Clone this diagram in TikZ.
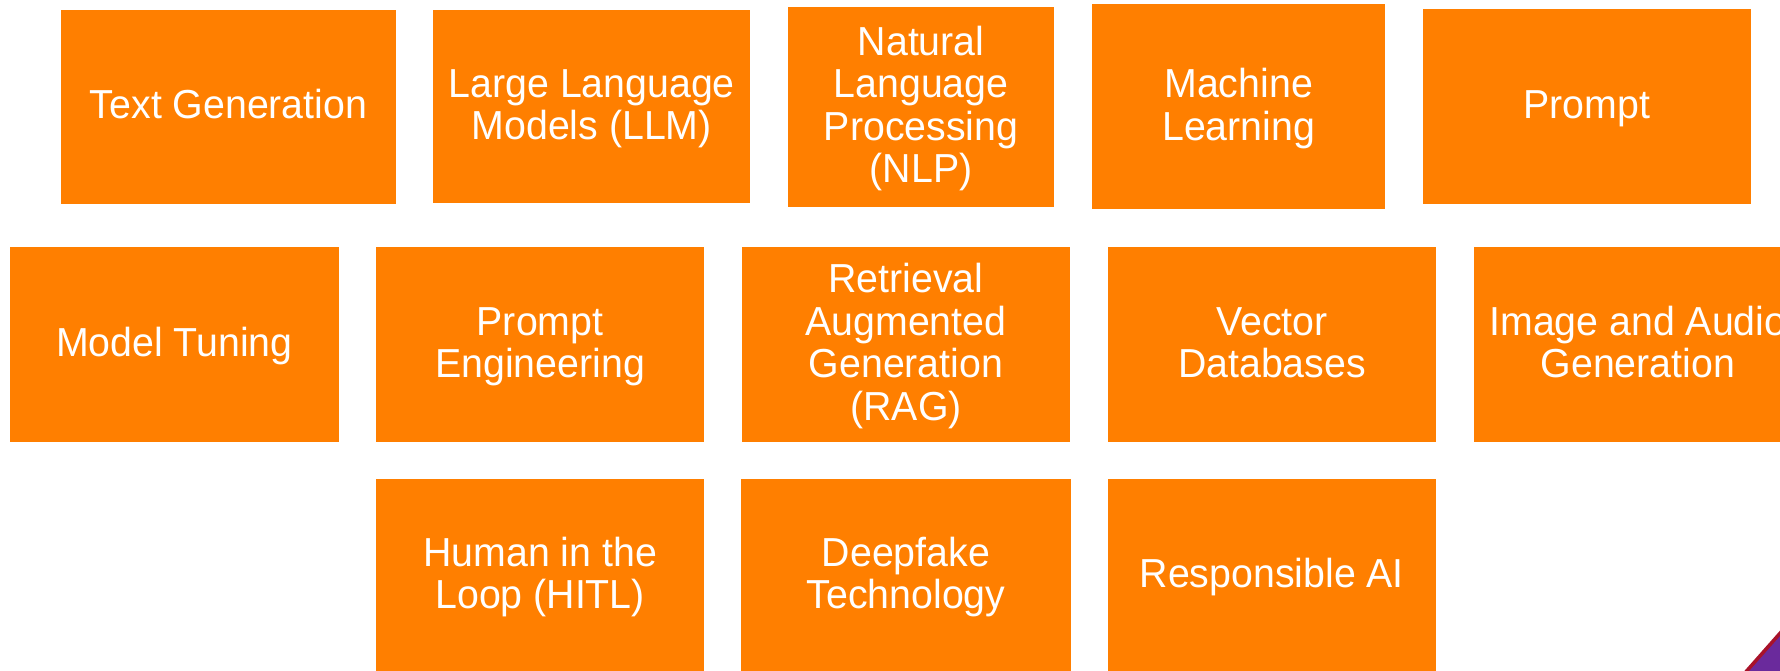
\documentclass[tikz,border=0pt]{standalone}
\usepackage{fontspec}
\setmainfont{Liberation Sans}[FakeStretch=0.97]
\definecolor{boxorange}{HTML}{FF7F00}
\definecolor{cornerred}{HTML}{A8122A}
\definecolor{cornerpurple}{HTML}{6A2A9C}
\newcommand\Tst{\rule{0pt}{36pt}}
\newcommand\Bst{\rule[-12pt]{0pt}{12pt}}
\tikzset{
  tile/.style={fill=boxorange, draw=none, inner sep=0pt, outer sep=0pt,
    text=white, align=center, font=\fontsize{40.5}{42.5}\selectfont,
    anchor=center},
}
\begin{document}
\begin{tikzpicture}[x=1pt, y={(0pt,-1pt)}]
\useasboundingbox (0,0) rectangle (1780,671);
\fill[white] (0,0) rectangle (1780,671);
% Row 1
\node[tile, minimum width=335pt, minimum height=194.3pt] (tg) at (228.5,106.85) {\Tst Text Generation\Bst};
\node[tile, minimum width=317pt, minimum height=192.7pt] (llm) at (591.8,106.65) {\Tst Large Language\\Models (LLM)\Bst};
\node[tile, minimum width=266.3pt, minimum height=199.7pt] (nlp) at (921.15,106.85) {\Tst Natural\\Language\\Processing\\(NLP)\Bst};
\node[tile, minimum width=293.3pt, minimum height=205pt] (ml) at (1238.65,106.8) {\Tst Machine\\Learning\Bst};
\node[tile, minimum width=328.3pt, minimum height=195pt] (pr) at (1586.85,106.8) {\Tst Prompt\Bst};
% Row 2
\node[tile, minimum width=328.7pt, minimum height=195.3pt] (mt) at (174.35,344.35) {\Tst Model Tuning\Bst};
\node[tile, minimum width=327.8pt, minimum height=195.3pt] (pe) at (540.1,344.35) {\Tst Prompt\\Engineering\Bst};
\node[tile, minimum width=328.6pt, minimum height=195.3pt] (rag) at (906,344.35) {\Tst Retrieval\\Augmented\\Generation\\(RAG)\Bst};
\node[tile, minimum width=328pt, minimum height=195.3pt] (vdb) at (1272,344.35) {\Tst Vector\\Databases\Bst};
\node[tile, minimum width=328.2pt, minimum height=195.3pt] (iag) at (1637.9,344.35) {\Tst Image and Audio\\Generation\Bst};
% Row 3
\node[tile, minimum width=328.3pt, minimum height=192pt] (hitl) at (540.15,575.3) {\Tst Human in the\\Loop (HITL)\Bst};
\node[tile, minimum width=329.1pt, minimum height=192pt] (df) at (905.95,575.3) {\Tst Deepfake\\Technology\Bst};
\node[tile, minimum width=328.4pt, minimum height=192pt] (rai) at (1271.8,575.3) {\Tst Responsible AI\Bst};
% corner decoration
\fill[cornerpurple] (1746.7,671) -- (1780,633.3) -- (1780,671) -- cycle;
\draw[cornerred, line width=3.5pt] (1744,674) -- (1782,631);
\end{tikzpicture}
\end{document}
